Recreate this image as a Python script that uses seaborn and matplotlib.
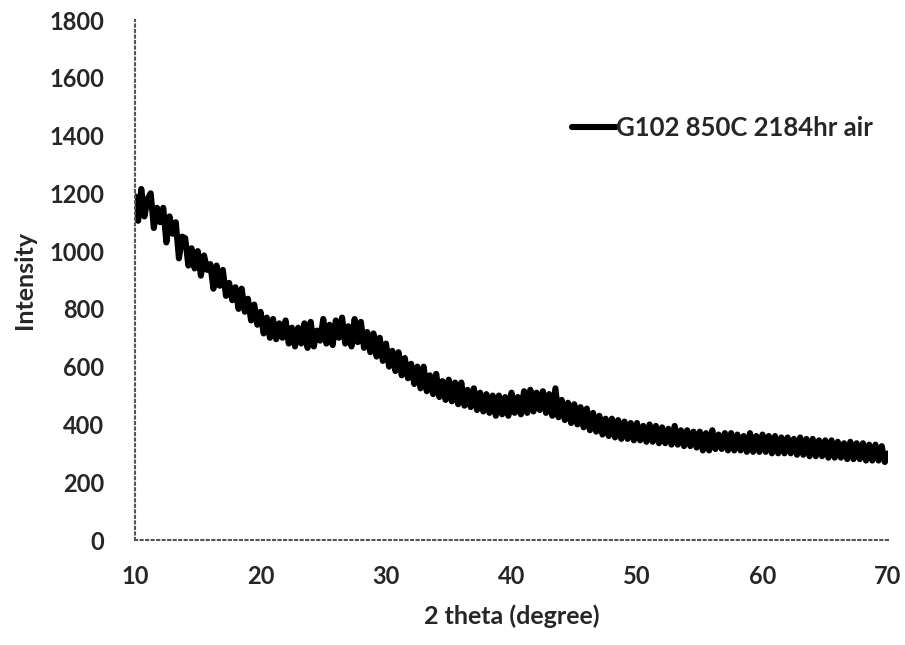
import numpy as np
import pandas as pd
import matplotlib
matplotlib.use("Agg")
import matplotlib.pyplot as plt
import seaborn as sns

# =====================
# DATA (0.25 degree steps)
# =====================
two_theta_start = 10.0
two_theta_step = 0.25

intensity = [
    1190, 1105, 1215, 1120,   # 10
    1180, 1200, 1080, 1150,   # 11
    1100, 1150, 1030, 1120,   # 12
    1060, 1100, 975, 1050,    # 13
    1045, 950, 1010, 940,     # 14
    1000, 915, 985, 935,      # 15
    955, 870, 950, 880,       # 16
    935, 845, 890, 830,       # 17
    875, 800, 870, 790,       # 18
    835, 760, 815, 745,       # 19
    790, 715, 770, 700,       # 20
    765, 695, 750, 700,       # 21
    760, 680, 735, 670,       # 22
    735, 680, 750, 665,       # 23
    755, 670, 725, 690,       # 24
    765, 680, 745, 675,       # 25
    760, 700, 770, 680,       # 26
    740, 670, 765, 685,       # 27
    755, 665, 720, 650,       # 28
    715, 635, 700, 620,       # 29
    680, 600, 655, 585,       # 30
    650, 570, 630, 560,       # 31
    610, 540, 600, 525,       # 32
    600, 515, 570, 505,       # 33
    575, 495, 550, 485,       # 34
    555, 480, 545, 470,       # 35
    545, 465, 520, 460,       # 36
    525, 450, 510, 445,       # 37
    505, 440, 500, 430,       # 38
    500, 435, 495, 430,       # 39
    510, 440, 495, 435,       # 40
    515, 440, 520, 445,       # 41
    510, 450, 515, 440,       # 42
    505, 430, 525, 425,       # 43
    485, 415, 475, 405,       # 44
    470, 400, 460, 390,       # 45
    455, 380, 440, 375,       # 46
    430, 365, 420, 360,       # 47
    420, 355, 415, 350,       # 48
    410, 350, 405, 345,       # 49
    405, 345, 395, 340,       # 50
    400, 340, 395, 335,       # 51
    390, 335, 385, 330,       # 52
    395, 330, 380, 325,       # 53
    380, 325, 375, 320,       # 54
    375, 310, 370, 310,       # 55
    380, 315, 365, 315,       # 56
    370, 310, 370, 310,       # 57
    365, 310, 360, 305,       # 58
    370, 305, 360, 305,       # 59
    365, 305, 360, 300,       # 60
    360, 300, 355, 300,       # 61
    355, 300, 350, 295,       # 62
    355, 295, 350, 290,       # 63
    350, 290, 345, 290,       # 64
    345, 285, 345, 285,       # 65
    340, 285, 335, 280,       # 66
    340, 280, 335, 280,       # 67
    335, 275, 330, 275,       # 68
    330, 275, 325, 270,       # 69
    300,                      # 70
]

two_theta = two_theta_start + two_theta_step * np.arange(len(intensity))
series_label = "G102 850C 2184hr air"

x_ticks = [10, 20, 30, 40, 50, 60, 70]
y_ticks = [0, 200, 400, 600, 800, 1000, 1200, 1400, 1600, 1800]

df = pd.DataFrame({"two_theta": two_theta, "intensity": intensity})

# =====================
# PLOT
# =====================
sns.set_style("white")
plt.rcParams["font.family"] = ["Lato", "DejaVu Sans"]

fig = plt.figure(figsize=(9.05, 6.45), dpi=100)
ax = fig.add_axes([135 / 905, 105 / 645, 753 / 905, 520 / 645])

sns.lineplot(data=df, x="two_theta", y="intensity", color="black",
             linewidth=4.4, label=series_label, ax=ax)

ax.set_xlim(10, 70)
ax.set_ylim(0, 1800)
ax.set_xticks(x_ticks)
ax.set_yticks(y_ticks)
ax.tick_params(axis="both", direction="in", length=6, width=1, color="#555555",
               labelsize=17, pad=22)
ax.tick_params(axis="x", pad=18)
for lab in ax.get_xticklabels() + ax.get_yticklabels():
    lab.set_fontweight("bold")

ax.set_xlabel("2 theta (degree)", fontsize=18, fontweight="bold", labelpad=12)
ax.set_ylabel("Intensity", fontsize=18, fontweight="bold", labelpad=10)

for side in ["top", "right"]:
    ax.spines[side].set_visible(False)
for side in ["left", "bottom"]:
    ax.spines[side].set_linestyle(":")
    ax.spines[side].set_color("#555555")
    ax.spines[side].set_linewidth(1.5)

leg = ax.legend(loc="upper right", bbox_to_anchor=(1.01, 0.86), frameon=False,
                prop={"size": 18.5, "weight": "bold"}, handlelength=1.7,
                handletextpad=0.0)

fig.savefig("out.png", dpi=100)
plt.close(fig)
